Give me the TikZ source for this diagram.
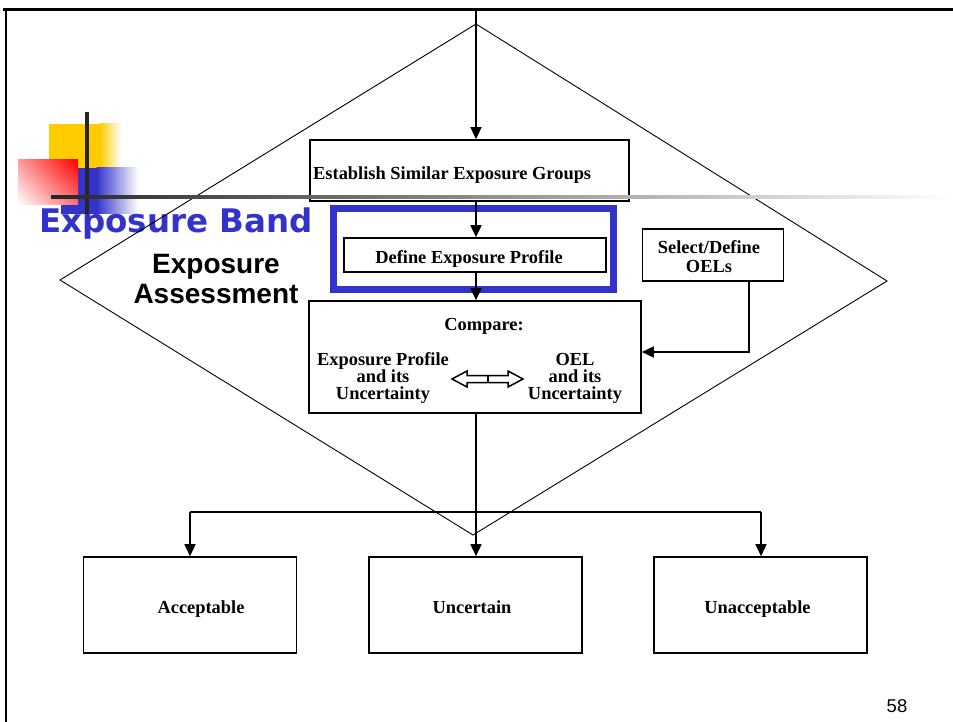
\documentclass[tikz,border=0pt]{standalone}
\usepackage{fontspec}
\setmainfont{Liberation Serif}
\newfontfamily\arialfont{Liberation Sans}
\newfontfamily\titlefont{DejaVu Sans}
\usetikzlibrary{arrows.meta,shadings}
\definecolor{bandblue}{RGB}{51,51,204}
\definecolor{decoyellow}{RGB}{255,204,0}
\definecolor{decored}{RGB}{255,0,0}
\tikzset{
  frameline/.style={line width=3pt},
  boxstyle/.style={draw, line width=1.6pt, fill=white, inner sep=0pt},
  conn/.style={line width=1.6pt},
  arr/.style={conn, -{Triangle[length=12pt, width=11pt]}},
  boxtext/.style={font=\fontsize{18.4}{16.8}\selectfont\bfseries, inner sep=0pt, anchor=base, align=center},
}
\begin{document}
\begin{tikzpicture}[x=1pt, y=-1pt]
\useasboundingbox (0,0) rectangle (953,722);
\fill[white] (0,0) rectangle (953,722);

% slide frame
\draw[frameline] (3,9.5) -- (953,9.5);
\draw[line width=2.5pt] (6,9.5) -- (6,722);

% title ornament
\fill[decoyellow] (49,124) rectangle (100,168);
\shade[left color=decoyellow, right color=white] (99.5,124) rectangle (121,168);
\fill[bandblue] (61,168) rectangle (97,214);
\shade[left color=bandblue, right color=white] (96.5,168) rectangle (138,214);
\shade[upper right=decored, upper left=decored!40, lower right=decored!55, lower left=white]
  (18,160) rectangle (78,205);
\draw[line width=4pt, black!85] (87,112) -- (87,222);

% title texts (multi-line nodes sit on the baseline of their last line)
\node[font=\titlefont\bfseries\fontsize{32.5}{32.5}\selectfont, text=bandblue, anchor=base west, inner sep=0pt]
  (band) at (39,233) {Exposure Band};
\node[font=\arialfont\bfseries\fontsize{28}{30}\selectfont, anchor=base, align=center, inner sep=0pt]
  (assess) at (216,303) {Exposure\\Assessment};

% assessment diamond
\coordinate (dtop) at (476,24);
\coordinate (dright) at (887,281);
\coordinate (dbottom) at (473,535);
\coordinate (dleft) at (60,280);
\draw[line width=0.9pt] (dtop) -- (dright) -- (dbottom) -- (dleft) -- cycle;

% process boxes
\node[boxstyle, minimum width=319pt, minimum height=61pt] (esg) at (469.5,170.5) {};
\node[boxstyle, minimum width=262pt, minimum height=34pt] (dep) at (475,255) {};
\node[draw=bandblue, line width=7pt, minimum width=280pt, minimum height=80pt, inner sep=0pt] (band box) at (473,249) {};
\node[boxstyle, minimum width=332pt, minimum height=112pt] (cmp) at (475,357) {};
\node[boxstyle, minimum width=141pt, minimum height=52pt] (oel) at (713,255) {};
\node[boxstyle, minimum width=213pt, minimum height=96pt] (acc) at (190,605) {};
\node[boxstyle, minimum width=213pt, minimum height=96pt] (unc) at (475.5,605) {};
\node[boxstyle, minimum width=213pt, minimum height=96pt] (unacc) at (760.5,605) {};

% title rule, fading to the right across the first box
\shade[left color=black!85, right color=white] (51,195.5) rectangle (953,198.5);

% box labels
\node[boxtext, anchor=base west] (esg text) at (313,180) {Establish Similar Exposure Groups};
\node[boxtext] (dep text) at (469,263) {Define Exposure Profile};
\node[boxtext] (cmp text) at (484,330) {Compare:};
\node[boxtext] (cmp left) at (383,399) {Exposure Profile\\and its\\Uncertainty};
\node[boxtext] (cmp right) at (575,399) {OEL\\and its\\Uncertainty};
\node[boxtext, font=\fontsize{18.4}{18}\selectfont\bfseries] (oel text) at (709,272) {Select/Define\\OELs};
\node[boxtext] (acc text) at (201,613) {Acceptable};
\node[boxtext] (unc text) at (472,613) {Uncertain};
\node[boxtext] (unacc text) at (757.5,613) {Unacceptable};

% two-way comparison arrow
\draw[line width=1.5pt, line join=miter]
  (452,379) -- (467,371) -- (467,375.5) -- (508,375.5) -- (508,371) -- (523,379)
  -- (508,387) -- (508,382.5) -- (467,382.5) -- (467,387) -- cycle;
\draw[line width=1.5pt] (488,375.5) -- (488,382.5);

% flow connectors
\coordinate (spine) at (476,10);
\coordinate (oelturn) at (749,352);
\coordinate (split) at (476,512);
\coordinate (splitL) at (190,512);
\coordinate (splitR) at (761,512);
\draw[line width=1.2pt, -{Triangle[length=12pt, width=11pt]}] (spine) -- (spine |- esg.north);
\draw[arr] (spine |- esg.south) -- (spine |- dep.north);
\draw[arr] (spine |- dep.south) -- (spine |- cmp.north);
\draw[arr] (oelturn |- oel.south) -- (oelturn) -- (oelturn -| cmp.east);
\draw[arr] (spine |- cmp.south) -- (spine |- unc.north);
\draw[conn] (splitL) -- (splitR);
\draw[line width=2.8pt] (582,512) -- (606,512);
\draw[arr] (splitL) -- (splitL |- acc.north);
\draw[arr] (splitR) -- (splitR |- unacc.north);

% page number
\node[font=\arialfont\fontsize{18.5}{18.5}\selectfont, anchor=base, inner sep=0pt] (page) at (897,712) {58};
\end{tikzpicture}
\end{document}
